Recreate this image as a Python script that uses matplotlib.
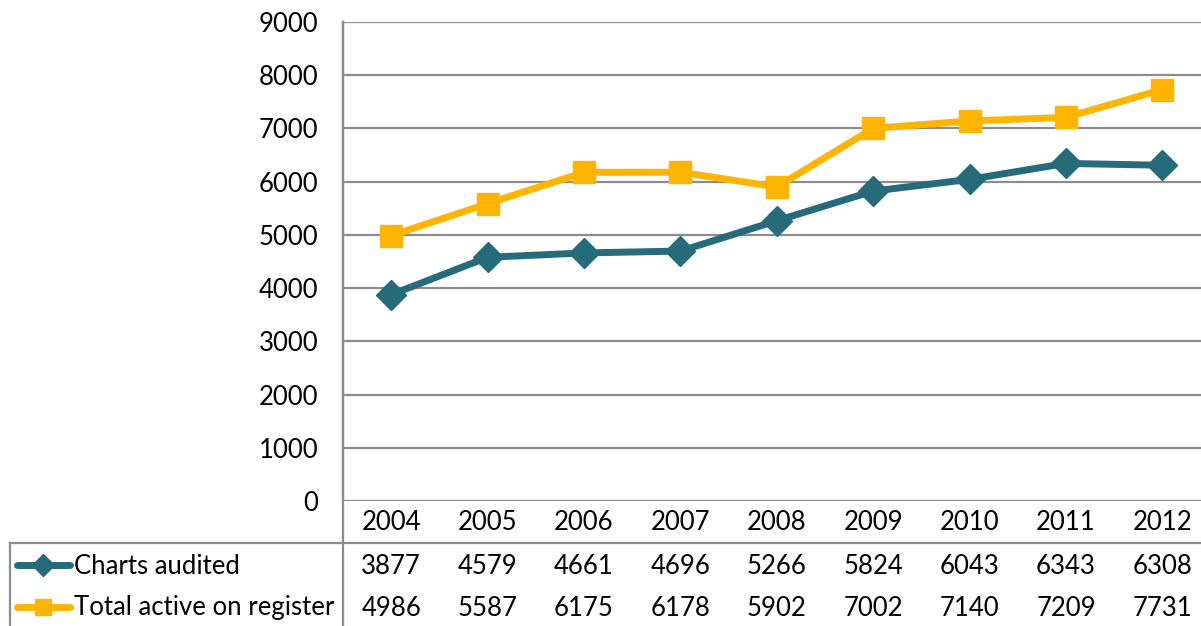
import matplotlib
matplotlib.use("Agg")
import matplotlib.pyplot as plt
from matplotlib.lines import Line2D

years = ["2004", "2005", "2006", "2007", "2008", "2009", "2010", "2011", "2012"]
charts_audited = [3877, 4579, 4661, 4696, 5266, 5824, 6043, 6343, 6308]
total_active = [4986, 5587, 6175, 6178, 5902, 7002, 7140, 7209, 7731]
series_names = ["Charts audited", "Total active on register"]
yticks = [0, 1000, 2000, 3000, 4000, 5000, 6000, 7000, 8000, 9000]

TEAL = "#266B7A"
GOLD = "#FFB400"
GRID = "#8C8C8C"
W, H = 1201, 626
FS = 18.5

plt.rcParams["font.family"] = ["Lato", "DejaVu Sans"]

fig = plt.figure(figsize=(W / 100, H / 100), dpi=100)


def fx(px):
    return px / W


def fy(py):
    return 1 - py / H


# plot area: left 343px, top 22px, bottom 501px, ~96.4px per category
ax = fig.add_axes([fx(343), fy(501), 9 * 96.4 / W, (501 - 22) / H])
x = list(range(len(years)))
ax.plot(x, charts_audited, color=TEAL, lw=5, marker="D", ms=15,
        solid_joinstyle="round", solid_capstyle="round", clip_on=False, zorder=3)
ax.plot(x, total_active, color=GOLD, lw=5, marker="s", ms=16.5,
        solid_joinstyle="round", solid_capstyle="round", clip_on=False, zorder=3)

ax.set_xlim(-0.5, len(years) - 0.5)
ax.set_ylim(0, 9000)
ax.set_yticks(yticks)
ax.set_yticklabels([str(v) for v in yticks], fontsize=FS)
ax.tick_params(axis="y", length=0, pad=18)
ax.set_xticks([])
ax.yaxis.grid(True, color=GRID, lw=1.6)
ax.set_axisbelow(True)
for s in ["top", "right", "bottom"]:
    ax.spines[s].set_visible(False)
ax.spines["left"].set_color(GRID)
ax.spines["left"].set_linewidth(1.6)

# data table under the chart
table_rows = [charts_audited, total_active]
row_y = [566, 608]
for i, yr in enumerate(years):
    xf = ax.transData.transform((i, 0))[0] / W
    fig.text(xf, fy(523), yr, ha="center", va="center", fontsize=FS)
    for vals, ry in zip(table_rows, row_y):
        fig.text(xf, fy(ry), str(vals[i]), ha="center", va="center", fontsize=FS)

lines = [
    ((343, 343), (22, 626)),
    ((10, W), (543, 543)),
    ((10, 10), (543, 626)),
]
for xs, ys in lines:
    fig.add_artist(Line2D([fx(v) for v in xs], [fy(v) for v in ys],
                          color=GRID, lw=1.6))

# legend keys
for name, color, mk, ms, ry in zip(series_names, [TEAL, GOLD], ["D", "s"],
                                   [11, 12], [565, 607]):
    fig.add_artist(Line2D([fx(17), fx(70)], [fy(ry), fy(ry)], color=color, lw=5,
                          solid_capstyle="round"))
    fig.add_artist(Line2D([fx(43)], [fy(ry)], color=color, marker=mk, ms=ms, lw=0))
    fig.text(fx(74), fy(ry + 1), name, ha="left", va="center", fontsize=FS)

fig.savefig("out.png", dpi=100)
